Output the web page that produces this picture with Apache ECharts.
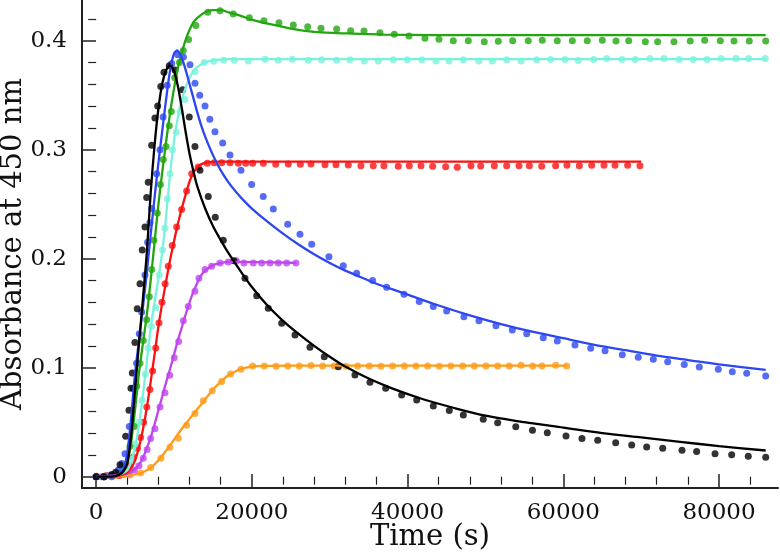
<!DOCTYPE html>
<html>
<head>
<meta charset="utf-8">
<script src="https://cdn.jsdelivr.net/npm/echarts@6/dist/echarts.min.js"></script>
<style>
  html, body { margin: 0; padding: 0; background: #fff; }
  #main { width: 780px; height: 558px; }
</style>
</head>
<body>
<div id="main"></div>
<script>
// tick positions
var xTicks = [0, 20000, 40000, 60000, 80000];
var xMinorTicks = [4000, 8000, 12000, 16000, 24000, 28000, 32000, 36000, 44000, 48000, 52000, 56000, 64000, 68000, 72000, 76000, 84000];
var yTicks = [0, 0.1, 0.2, 0.3, 0.4];
var yMinorTicks = [0.02, 0.04, 0.06, 0.08, 0.12, 0.14, 0.16, 0.18, 0.22, 0.24, 0.26, 0.28, 0.32, 0.34, 0.36, 0.38, 0.42];

// measured points [time, absorbance] and fitted curves
var blackDots = [[0,0.000],[1000,0.000],[2000,0.002],[2500,0.004],[3060,0.011],[3790,0.037],[4210,0.061],[4470,0.081],[4640,0.095],[4980,0.123],[5280,0.154],[5630,0.177],[5920,0.208],[6270,0.229],[6490,0.256],[6690,0.270],[7130,0.304],[7550,0.329],[7900,0.340],[8300,0.358],[8710,0.371],[9390,0.377],[10120,0.373],[11110,0.355],[11960,0.330],[12690,0.303],[13330,0.281],[14400,0.257],[15300,0.238],[16330,0.217],[17700,0.198],[19110,0.182],[20620,0.166],[22110,0.1545],[23830,0.1407],[25540,0.130],[27460,0.1187],[29300,0.110],[31100,0.1009],[33240,0.0933],[35170,0.0866],[37190,0.0811],[39240,0.075],[41170,0.0704],[43300,0.0649],[45360,0.0606],[47160,0.0566],[49720,0.0527],[51570,0.0495],[53900,0.0459],[56040,0.0425],[57950,0.0404],[60350,0.0373],[62400,0.0349],[64420,0.0334],[66730,0.0312],[68790,0.0291],[70710,0.0272],[72770,0.026],[75250,0.0242],[77130,0.023],[79490,0.0211],[81630,0.0202],[83760,0.0187],[86000,0.0178]];
var blackFit = [[0,0],[2000,0.000],[3000,0.002],[3500,0.005],[4000,0.012],[4500,0.038],[5000,0.080],[5500,0.122],[6000,0.163],[6500,0.205],[7000,0.260],[7500,0.304],[8000,0.338],[8500,0.361],[9000,0.373],[9500,0.377],[10000,0.372],[10500,0.358],[11000,0.338],[11500,0.316],[12000,0.296],[12500,0.280],[13000,0.266],[14000,0.246],[15000,0.230],[16000,0.217],[17000,0.205],[18500,0.189],[20000,0.174],[22000,0.157],[24000,0.143],[26000,0.131],[28000,0.120],[30000,0.110],[32000,0.101],[35000,0.090],[38000,0.081],[42000,0.071],[46000,0.063],[50000,0.056],[55000,0.050],[60000,0.045],[65000,0.040],[70000,0.036],[75000,0.032],[80000,0.028],[86000,0.024]];

var blueDots = [[0,0.000],[1000,0.000],[2000,0.001],[2840,0.006],[3300,0.012],[3700,0.021],[4260,0.046],[4770,0.081],[5200,0.104],[5540,0.131],[5840,0.151],[6270,0.185],[6610,0.215],[6910,0.233],[7130,0.246],[7770,0.278],[8200,0.300],[8600,0.330],[9130,0.359],[9700,0.379],[10470,0.387],[11200,0.385],[12050,0.378],[12690,0.361],[13300,0.350],[13980,0.340],[14600,0.328],[15260,0.3165],[16250,0.306],[17190,0.295],[18600,0.281],[19970,0.268],[21460,0.257],[22750,0.2456],[24600,0.2316],[26180,0.2224],[27680,0.2132],[29900,0.2018],[31740,0.1935],[33460,0.1866],[35510,0.180],[37310,0.1738],[39540,0.1673],[41500,0.1606],[43300,0.156],[45020,0.152],[47240,0.1468],[49170,0.1431],[51350,0.1385],[53450,0.1346],[55300,0.131],[57430,0.1275],[59230,0.1245],[61500,0.1208],[63520,0.1178],[65360,0.1156],[67580,0.1119],[69630,0.1095],[71560,0.1077],[73410,0.1055],[75540,0.1028],[77470,0.1006],[79910,0.0985],[81710,0.0963],[83560,0.0949],[86000,0.0924]];
var blueFit = [[0,0],[2000,0.000],[3000,0.002],[3500,0.007],[4000,0.022],[4500,0.055],[5000,0.095],[5500,0.125],[6000,0.155],[6500,0.187],[7000,0.222],[7500,0.256],[8000,0.288],[8500,0.318],[9000,0.347],[9500,0.373],[10000,0.388],[10400,0.391],[11000,0.384],[11500,0.373],[12000,0.360],[12500,0.347],[13000,0.334],[13500,0.322],[14000,0.312],[15000,0.295],[16000,0.281],[17000,0.270],[18000,0.261],[19000,0.253],[20000,0.246],[22000,0.234],[24000,0.223],[26000,0.213],[28000,0.204],[30000,0.196],[32000,0.189],[34000,0.183],[36000,0.177],[38000,0.172],[40000,0.167],[44000,0.157],[48000,0.148],[52000,0.140],[56000,0.133],[60000,0.127],[64000,0.121],[68000,0.116],[72000,0.111],[76000,0.107],[80000,0.103],[86000,0.098]];

var greenDots = [[0,0.000],[1000,0.000],[2000,0.001],[3000,0.003],[3600,0.008],[4340,0.028],[4900,0.046],[5200,0.083],[5630,0.104],[6050,0.125],[6490,0.144],[6820,0.165],[7130,0.190],[7420,0.217],[7850,0.242],[8250,0.268],[8620,0.291],[8970,0.303],[9390,0.322],[9650,0.335],[10100,0.366],[10700,0.380],[11190,0.391],[11870,0.401],[12800,0.414],[14340,0.426],[15900,0.4275],[17610,0.4245],[19670,0.4211],[21550,0.4183],[23480,0.4165],[25320,0.4144],[27170,0.4128],[28880,0.4114],[30890,0.4107],[32690,0.4092],[34400,0.4089],[36450,0.4073],[38290,0.4059],[40180,0.4043],[42230,0.4022],[44030,0.4013],[45870,0.400],[47800,0.400],[49850,0.3991],[51650,0.3994],[53500,0.400],[55500,0.400],[57300,0.4004],[59230,0.400],[61160,0.400],[63080,0.400],[65010,0.4004],[66770,0.3997],[68400,0.400],[70540,0.3991],[72120,0.3991],[74220,0.3991],[76310,0.3997],[78160,0.4004],[80170,0.400],[81930,0.3997],[83890,0.3997],[86000,0.3997]];
var greenFit = [[0,0],[2000,0.000],[3000,0.002],[3500,0.005],[4000,0.013],[4500,0.032],[5000,0.062],[5500,0.095],[6000,0.122],[6500,0.148],[7000,0.180],[7500,0.215],[8000,0.250],[8500,0.280],[9000,0.308],[9500,0.334],[10000,0.356],[10500,0.375],[11000,0.389],[11500,0.401],[12000,0.410],[12500,0.417],[13000,0.421],[14000,0.426],[15000,0.428],[16000,0.428],[17000,0.426],[18500,0.423],[20000,0.419],[22500,0.415],[25000,0.411],[28000,0.408],[31000,0.407],[37000,0.4055],[50000,0.405],[86000,0.405]];

var cyanDots = [[0,0.000],[1000,0.000],[2000,0.001],[3000,0.003],[3900,0.007],[4500,0.016],[5000,0.030],[5500,0.050],[5900,0.070],[6300,0.094],[6700,0.118],[7100,0.138],[7680,0.155],[8100,0.185],[8540,0.208],[8840,0.228],[9130,0.255],[9480,0.278],[9800,0.300],[10300,0.316],[10800,0.335],[11400,0.346],[12690,0.3715],[13870,0.380],[15090,0.381],[16380,0.382],[17740,0.382],[19540,0.3814],[21680,0.383],[23390,0.382],[25190,0.383],[27240,0.382],[28960,0.3824],[30890,0.382],[32600,0.3824],[34440,0.3814],[36240,0.3814],[38160,0.3824],[39960,0.3824],[41850,0.3824],[43650,0.3814],[45320,0.3814],[47160,0.3824],[49140,0.3814],[50880,0.3814],[52730,0.3824],[54570,0.3814],[56580,0.3824],[58380,0.3827],[60220,0.3827],[61930,0.3817],[63900,0.3827],[65570,0.3837],[67540,0.3827],[69250,0.3827],[71130,0.3837],[72930,0.3837],[74860,0.3827],[76700,0.3827],[78460,0.3827],[80290,0.3837],[82180,0.3837],[83810,0.3837],[85950,0.3837]];
var cyanFit = [[0,0],[2000,0.000],[3000,0.002],[4000,0.006],[4500,0.014],[5000,0.027],[5500,0.047],[6000,0.075],[6500,0.105],[7000,0.136],[7500,0.160],[8000,0.182],[8500,0.207],[9000,0.240],[9500,0.278],[10000,0.308],[10500,0.330],[11000,0.346],[11500,0.357],[12000,0.366],[12500,0.372],[13000,0.376],[14000,0.380],[15000,0.382],[17000,0.383],[86000,0.383]];

var redDots = [[0,0.000],[1000,0.000],[2000,0.000],[3000,0.001],[3700,0.003],[4260,0.010],[4800,0.018],[5300,0.026],[5700,0.036],[6100,0.050],[6500,0.064],[6900,0.080],[7250,0.097],[7650,0.118],[8070,0.141],[8450,0.160],[8850,0.177],[9260,0.193],[9780,0.212],[10340,0.229],[10980,0.245],[11620,0.262],[12270,0.278],[13120,0.284],[14280,0.2875],[15170,0.288],[16120,0.288],[17190,0.288],[18250,0.2875],[19200,0.2875],[20100,0.2875],[21470,0.2875],[23060,0.2866],[24680,0.2868],[26220,0.2866],[27590,0.2868],[29390,0.2862],[30800,0.2862],[32380,0.286],[34010,0.2853],[35590,0.2853],[36960,0.2853],[38800,0.2847],[40220,0.2853],[41720,0.2853],[43220,0.2847],[44890,0.2844],[46380,0.2838],[48140,0.2853],[49390,0.285],[51140,0.2853],[52730,0.2853],[54310,0.2853],[55640,0.2853],[57230,0.2847],[59020,0.2853],[60470,0.2856],[62060,0.2853],[63650,0.2856],[65230,0.2856],[66640,0.2856],[68270,0.2856],[69850,0.2853]];
var redFit = [[0,0],[2000,0.000],[3000,0.001],[4000,0.004],[4500,0.008],[5000,0.015],[5500,0.027],[6000,0.043],[6500,0.063],[7000,0.087],[7500,0.112],[8000,0.138],[8500,0.160],[9000,0.180],[9500,0.199],[10000,0.216],[10500,0.232],[11000,0.246],[11500,0.259],[12000,0.271],[12500,0.279],[13000,0.284],[14000,0.288],[16000,0.289],[70000,0.289]];

var purpleDots = [[0,0.000],[700,0.000],[1400,0.001],[2100,0.001],[2800,0.002],[3500,0.002],[4200,0.003],[4900,0.006],[5500,0.010],[6050,0.017],[6550,0.025],[7000,0.035],[7550,0.044],[8200,0.064],[8840,0.077],[9450,0.093],[10030,0.109],[10600,0.124],[11200,0.143],[11830,0.156],[12690,0.170],[13200,0.182],[13980,0.190],[14830,0.193],[15900,0.196],[16970,0.197],[18000,0.198],[18980,0.196],[20180,0.196],[21260,0.196],[22320,0.196],[23390,0.196],[24470,0.196],[25660,0.196]];
var purpleFit = [[0,0],[2000,0.001],[4000,0.003],[5000,0.007],[5500,0.011],[6000,0.017],[6500,0.026],[7000,0.036],[7500,0.048],[8000,0.061],[8500,0.074],[9000,0.087],[9500,0.099],[10000,0.112],[10500,0.125],[11000,0.137],[11500,0.149],[12000,0.160],[12500,0.170],[13000,0.178],[13500,0.185],[14000,0.189],[15000,0.194],[16000,0.196],[17000,0.197],[18000,0.197],[25700,0.196]];

var orangeDots = [[0,0.0006],[1260,0.001],[2630,0.001],[4340,0.0016],[5710,0.0034],[7000,0.0083],[8320,0.0169],[9480,0.027],[10550,0.0352],[11620,0.0472],[12690,0.058],[13760,0.0697],[14910,0.0789],[16120,0.0872],[17270,0.0942],[18600,0.0985],[20100,0.1016],[21600,0.1016],[23100,0.1013],[24600,0.1016],[26090,0.1016],[27590,0.1019],[29090,0.1016],[30580,0.1016],[32090,0.1013],[33590,0.1016],[35080,0.1016],[36580,0.1013],[38080,0.1016],[39580,0.1016],[41080,0.1016],[42580,0.1016],[44070,0.1013],[45570,0.1016],[47080,0.1016],[48570,0.1016],[50070,0.1016],[51570,0.1016],[53060,0.1016],[54570,0.1022],[56070,0.1016],[57260,0.1016],[59020,0.1022],[60440,0.1016]];
var orangeFit = [[0,0],[2000,0.000],[4000,0.001],[5000,0.002],[6000,0.004],[7000,0.008],[8000,0.015],[9000,0.024],[10000,0.034],[11000,0.044],[12000,0.053],[13000,0.062],[14000,0.071],[15000,0.080],[16000,0.087],[17000,0.093],[18000,0.097],[19000,0.0995],[20000,0.101],[22000,0.1016],[25000,0.1018],[60500,0.1018]];

var serif = 'DejaVu Serif';
var axisColor = '#222';

var sets = [
  { color: '#ff9b17', dots: orangeDots, fit: orangeFit },
  { color: '#bf45ef', dots: purpleDots, fit: purpleFit },
  { color: '#fa1212', dots: redDots, fit: redFit },
  { color: '#79f2dc', dots: cyanDots, fit: cyanFit },
  { color: '#22a50f', dots: greenDots, fit: greenFit },
  { color: '#2c47f2', dots: blueDots, fit: blueFit },
  { color: '#000000', dots: blackDots, fit: blackFit }
];

var series = [];
sets.forEach(function (s) {
  series.push({
    type: 'line', data: s.fit, showSymbol: false, smooth: 0.3,
    lineStyle: { color: s.color, width: 2.3 }, silent: true
  });
  series.push({
    type: 'scatter', data: s.dots, symbol: 'circle', symbolSize: 7,
    itemStyle: { color: s.color }, silent: true
  });
});

var xMin = -1820, xMax = 87580, yMin = -0.0104, yMax = 0.4373;

var option = {
  animation: false,
  grid: { left: 82, right: 2, top: 0, bottom: 70, containLabel: false, outerBoundsMode: 'none' },
  xAxis: [
    {
      type: 'value', min: xMin, max: xMax,
      axisLine: { onZero: false, lineStyle: { color: axisColor, width: 2 } },
      axisTick: { inside: true, length: 14, customValues: xTicks, lineStyle: { color: axisColor, width: 1.5 } },
      axisLabel: { customValues: xTicks, margin: 14, fontFamily: serif, fontSize: 23, color: '#111',
        formatter: function (v) { return String(v); } },
      splitLine: { show: false },
      name: 'Time (s)', nameLocation: 'middle', nameGap: 35, nameMoveOverlap: false,
      nameTextStyle: { fontFamily: serif, fontSize: 29, color: '#111' }
    },
    {
      type: 'value', min: xMin, max: xMax,
      axisLine: { show: false },
      axisTick: { inside: true, length: 8, customValues: xMinorTicks, lineStyle: { color: axisColor, width: 1.2 } },
      axisLabel: { show: false },
      splitLine: { show: false }
    }
  ],
  yAxis: [
    {
      type: 'value', min: yMin, max: yMax,
      axisLine: { onZero: false, lineStyle: { color: axisColor, width: 2 } },
      axisTick: { inside: true, length: 14, customValues: yTicks, lineStyle: { color: axisColor, width: 1.5 } },
      axisLabel: { customValues: yTicks, margin: 15, fontFamily: serif, fontSize: 23, color: '#111',
        formatter: function (v) { return String(v); } },
      splitLine: { show: false },
      name: 'Absorbance at 450 nm', nameLocation: 'middle', nameGap: 54, nameMoveOverlap: false,
      nameTextStyle: { fontFamily: serif, fontSize: 29, color: '#111' }
    },
    {
      type: 'value', min: yMin, max: yMax,
      axisLine: { show: false },
      axisTick: { inside: true, length: 8, customValues: yMinorTicks, lineStyle: { color: axisColor, width: 1.2 } },
      axisLabel: { show: false },
      splitLine: { show: false }
    }
  ],
  series: series
};

var chart = echarts.init(document.getElementById('main'));
chart.setOption(option);
</script>
</body>
</html>
